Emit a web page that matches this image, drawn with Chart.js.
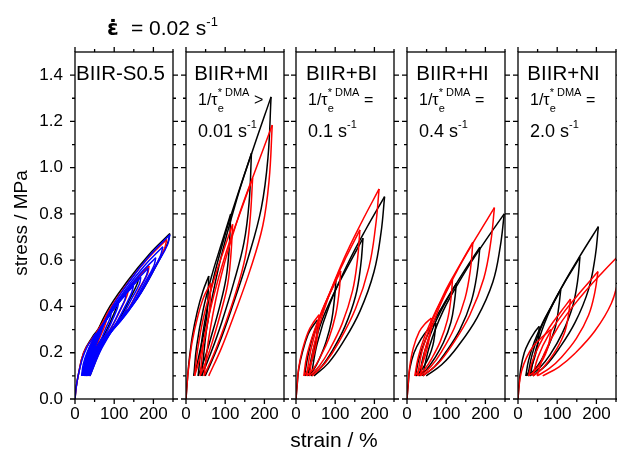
<!DOCTYPE html>
<html>
<head>
<meta charset="utf-8">
<script src="https://cdn.jsdelivr.net/npm/chart.js@4.4.1/dist/chart.umd.min.js"></script>
<style>
  body { margin: 0; background: #fff; }
  #wrap { position: relative; width: 617px; height: 457px; }
  #wrap canvas { position: absolute; left: 0; top: 0; }
</style>
</head>
<body>
<div id="wrap"></div>
<script>
// cyclic tensile tests: strain in %, stress in MPa, each array runs load -> unload -> reload ...
const s05BlackStrain = [0,3,8,22,45,54,80,109, 106,96,74,53,36,22, 34,57,93,128,163, 158,142,109,75,48,28, 45,81,135,188,242, 236,212,160,109,68,38];
const s05BlackStress = [0,0.05,0.1,0.2,0.27,0.29,0.35,0.42, 0.398,0.356,0.276,0.222,0.164,0.1, 0.194,0.291,0.385,0.461,0.525, 0.495,0.44,0.334,0.262,0.185,0.1, 0.235,0.377,0.512,0.623,0.715, 0.672,0.592,0.438,0.334,0.223,0.1];
const s05RedStrain = [0,3,8,22,45,63,81, 79,72,56,41,29,20, 29,48,78,107,136, 132,119,91,63,42,25, 38,66,107,148,189, 185,165,126,86,54,30, 46,81,132,183,234, 228,204,154,105,65,36];
const s05RedStress = [0,0.05,0.1,0.2,0.265,0.3,0.35, 0.333,0.3,0.238,0.195,0.15,0.1, 0.181,0.267,0.348,0.415,0.47, 0.444,0.396,0.304,0.241,0.174,0.1, 0.205,0.314,0.418,0.504,0.575, 0.542,0.48,0.361,0.281,0.195,0.1, 0.23,0.366,0.495,0.602,0.69, 0.649,0.572,0.425,0.324,0.219,0.1];
const s05BlueStrain = [0,3,8,18,31,45,54, 53,48,39,30,23,17, 21,31,45,59,73, 71,65,51,38,27,19, 25,37,56,74,92, 90,81,64,46,32,21, 28,44,66,89,111, 108,98,76,54,36,23, 32,50,77,103,130, 127,114,88,62,41,25, 35,56,87,118,149, 145,131,100,70,45,27, 38,62,98,133,168, 164,147,112,78,50,29, 42,69,108,148,187, 182,164,125,86,54,31, 45,75,119,162,206, 201,180,137,94,59,33, 48,81,129,176,224, 218,196,148,101,63,35, 52,87,139,190,242, 236,211,160,109,69,38];
const s05BlueStress = [0,0.05,0.1,0.17,0.225,0.262,0.285, 0.272,0.248,0.202,0.17,0.137,0.1, 0.15,0.202,0.252,0.293,0.327, 0.311,0.282,0.225,0.186,0.145,0.1, 0.159,0.222,0.281,0.33,0.37, 0.351,0.316,0.249,0.203,0.154,0.1, 0.169,0.241,0.31,0.367,0.414, 0.392,0.351,0.273,0.219,0.163,0.1, 0.178,0.259,0.337,0.4,0.453, 0.428,0.382,0.294,0.234,0.171,0.1, 0.186,0.275,0.361,0.431,0.489, 0.462,0.411,0.314,0.248,0.178,0.1, 0.194,0.292,0.385,0.462,0.526, 0.496,0.441,0.334,0.262,0.185,0.1, 0.203,0.31,0.412,0.496,0.566, 0.533,0.473,0.356,0.277,0.193,0.1, 0.212,0.33,0.442,0.534,0.611, 0.575,0.509,0.381,0.294,0.202,0.1, 0.223,0.351,0.474,0.574,0.658, 0.619,0.546,0.407,0.312,0.212,0.1, 0.234,0.375,0.509,0.619,0.71, 0.667,0.588,0.436,0.332,0.222,0.1];

const miBlackStrain = [0,3,7,16,29,43,58, 56,53,45,35,28,20, 27,43,67,91,114, 110,102,85,64,48,31, 42,65,99,133,167, 161,148,122,91,65,40, 54,85,129,173,217, 209,192,158,116,83,49];
const miBlackStress = [0,0.07,0.15,0.27,0.38,0.465,0.532, 0.437,0.359,0.281,0.204,0.148,0.1, 0.226,0.38,0.541,0.674,0.8, 0.646,0.52,0.394,0.268,0.177,0.1, 0.273,0.485,0.706,0.889,1.062, 0.85,0.677,0.504,0.331,0.206,0.1, 0.317,0.582,0.86,1.089,1.306, 1.041,0.824,0.607,0.389,0.233,0.1];
const miRedStrain = [0,3,7,16,29,45,63, 61,56,48,38,30,22, 30,46,71,95,119, 114,106,89,69,53,36, 46,70,103,137,170, 163,151,127,96,71,46, 61,90,133,177,220, 212,196,163,122,90,58];
const miRedStress = [0,0.07,0.14,0.25,0.35,0.44,0.5, 0.412,0.34,0.268,0.196,0.144,0.1, 0.218,0.362,0.513,0.637,0.755, 0.611,0.493,0.375,0.257,0.172,0.1, 0.254,0.442,0.638,0.8,0.954, 0.766,0.612,0.459,0.305,0.194,0.1, 0.295,0.534,0.783,0.989,1.184, 0.946,0.75,0.555,0.36,0.219,0.1];

const biBlackStrain = [0,3,7,16,31,45,55, 54,50,44,36,29,22, 29,42,63,82,102, 98,91,77,60,46,31, 43,66,102,137,171, 165,152,125,92,66,39, 54,86,133,179,226, 217,199,163,118,82,46];
const biBlackStress = [0,0.06,0.13,0.2,0.28,0.32,0.342, 0.294,0.24,0.187,0.144,0.117,0.1, 0.175,0.266,0.361,0.44,0.515, 0.432,0.341,0.249,0.175,0.129,0.1, 0.207,0.338,0.475,0.588,0.695, 0.576,0.445,0.314,0.207,0.142,0.1, 0.24,0.41,0.588,0.736,0.875, 0.72,0.55,0.379,0.24,0.154,0.1];
const biRedStrain = [0,3,7,16,31,46,59, 57,53,46,36,28,20, 27,44,67,91,114, 110,101,84,62,45,27, 38,61,96,129,163, 157,144,118,86,60,34, 48,79,123,167,212, 203,186,152,109,75,41];
const biRedStress = [0,0.065,0.135,0.21,0.29,0.335,0.364, 0.311,0.253,0.195,0.148,0.118,0.1, 0.182,0.282,0.386,0.472,0.554, 0.463,0.363,0.263,0.182,0.132,0.1, 0.214,0.352,0.498,0.617,0.731, 0.605,0.466,0.327,0.214,0.144,0.1, 0.245,0.423,0.609,0.763,0.908, 0.746,0.569,0.391,0.245,0.157,0.1];

const hiBlackStrain = [0,3,7,18,36,54,74, 71,66,56,43,33,22, 30,48,74,100,126, 121,112,93,69,50,31, 44,70,109,147,186, 179,164,135,98,70,40, 57,92,145,196,248, 238,219,179,129,89,49];
const hiBlackStress = [0,0.06,0.13,0.2,0.26,0.3,0.328, 0.282,0.232,0.182,0.141,0.116,0.1, 0.172,0.26,0.352,0.428,0.5, 0.42,0.332,0.244,0.172,0.128,0.1, 0.2,0.322,0.45,0.556,0.656, 0.545,0.422,0.3,0.2,0.139,0.1, 0.226,0.38,0.541,0.674,0.8, 0.66,0.506,0.352,0.226,0.149,0.1];
const hiRedStrain = [0,3,7,16,31,46,62, 60,55,47,37,28,20, 28,44,68,92,116, 112,103,85,63,45,27, 38,63,97,133,168, 162,148,121,88,61,34, 49,81,129,176,223, 214,196,160,114,78,41];
const hiRedStress = [0,0.065,0.14,0.22,0.29,0.325,0.35, 0.3,0.245,0.19,0.145,0.118,0.1, 0.175,0.266,0.361,0.44,0.515, 0.432,0.341,0.249,0.175,0.129,0.1, 0.204,0.331,0.464,0.574,0.678, 0.562,0.435,0.308,0.204,0.14,0.1, 0.231,0.391,0.558,0.696,0.827, 0.682,0.522,0.362,0.231,0.151,0.1];

const niBlackStrain = [0,3,7,16,29,41,54, 53,49,42,34,27,20, 27,42,64,87,109, 104,96,79,59,42,25, 36,58,92,125,158, 152,139,113,82,56,31, 46,75,119,162,205, 197,180,146,104,71,38];
const niBlackStress = [0,0.065,0.13,0.2,0.25,0.285,0.314, 0.271,0.224,0.177,0.139,0.115,0.1, 0.167,0.249,0.334,0.405,0.472, 0.398,0.316,0.234,0.167,0.126,0.1, 0.192,0.305,0.423,0.521,0.613, 0.51,0.398,0.285,0.192,0.136,0.1, 0.216,0.358,0.506,0.629,0.745, 0.616,0.474,0.332,0.216,0.145,0.1];
const niRedStrain = [0,3,9,22,40,63,84, 81,75,64,50,38,27, 36,54,80,107,134, 129,120,100,76,57,38, 51,79,121,163,204, 196,180,149,111,80,49, 67,104,159,213,268, 258,238,196,145,104,63];
const niRedStress = [0,0.06,0.12,0.18,0.23,0.27,0.3, 0.26,0.216,0.172,0.136,0.114,0.1, 0.16,0.233,0.309,0.372,0.432, 0.366,0.293,0.22,0.16,0.123,0.1, 0.181,0.28,0.384,0.47,0.551, 0.461,0.362,0.262,0.181,0.132,0.1, 0.197,0.316,0.44,0.543,0.64, 0.532,0.413,0.294,0.197,0.138,0.1];

const sampleNames = ["BIIR-S0.5", "BIIR+MI", "BIIR+BI", "BIIR+HI", "BIIR+NI"];
const relaxSigns = ["", ">", "=", "=", "="];
const relaxRates = ["", "0.01", "0.1", "0.4", "2.0"];

const xTicks = [0, 50, 100, 150, 200, 250];
const xTickLabels = [0, 100, 200];
const yTicks = [0, 0.1, 0.2, 0.3, 0.4, 0.5, 0.6, 0.7, 0.8, 0.9, 1.0, 1.1, 1.2, 1.3, 1.4];
const yTickLabels = ["0.0", "0.2", "0.4", "0.6", "0.8", "1.0", "1.2", "1.4"];

// per panel, listed bottom layer first
const curves = [
  [[s05BlackStrain, s05BlackStress, "#000"], [s05RedStrain, s05RedStress, "#f00"], [s05BlueStrain, s05BlueStress, "#00f"]],
  [[miBlackStrain, miBlackStress, "#000"], [miRedStrain, miRedStress, "#f00"]],
  [[biBlackStrain, biBlackStress, "#000"], [biRedStrain, biRedStress, "#f00"]],
  [[hiBlackStrain, hiBlackStress, "#000"], [hiRedStrain, hiRedStress, "#f00"]],
  [[niBlackStrain, niBlackStress, "#000"], [niRedStrain, niRedStress, "#f00"]]
];

const W = 617, H = 457;
const panelLeft = [75, 186, 296, 407, 518];
const panelWidth = 98;
const plotTop = 52, plotBottom = 399;
const FONT = "'Liberation Sans', Arial, sans-serif";

// split a load/unload path wherever strain changes direction, so each branch is smoothed alone
function branches(xs, ys) {
  const out = [];
  let cur = [{ x: xs[0], y: ys[0] }];
  let dir = 0;
  for (let i = 1; i < xs.length; i++) {
    const d = Math.sign(xs[i] - xs[i - 1]);
    if (dir && d && d !== dir) {
      out.push(cur);
      cur = [{ x: xs[i - 1], y: ys[i - 1] }];
    }
    if (d) dir = d;
    cur.push({ x: xs[i], y: ys[i] });
  }
  out.push(cur);
  return out;
}

function runs(ctx, x, y, parts) {
  // parts: [text, size, dy, keepX]
  parts.forEach(([t, size, dy, keep]) => {
    ctx.font = size + "px " + FONT;
    ctx.fillText(t, x, y + dy);
    if (!keep) x += ctx.measureText(t).width;
  });
  return x;
}

const panelFrame = {
  id: "panelFrame",
  afterDatasetsDraw(chart, args, opts) {
    const { ctx, chartArea: a, scales: { x, y } } = chart;
    const i = opts.index;
    ctx.save();
    ctx.strokeStyle = "#000";
    ctx.fillStyle = "#000";
    ctx.lineWidth = 1.3;
    ctx.strokeRect(a.left, a.top, a.right - a.left, a.bottom - a.top);

    ctx.beginPath();
    xTicks.forEach(v => {
      const px = x.getPixelForValue(v);
      const len = v % 100 === 0 ? 5 : 3;
      ctx.moveTo(px, a.bottom); ctx.lineTo(px, a.bottom + len);
      ctx.moveTo(px, a.top); ctx.lineTo(px, a.top - len);
    });
    yTicks.forEach((v, k) => {
      const py = y.getPixelForValue(v);
      const len = k % 2 === 0 ? 5 : 3;
      ctx.moveTo(a.left, py); ctx.lineTo(a.left - len, py);
      ctx.moveTo(a.right, py); ctx.lineTo(a.right + len, py);
    });
    ctx.stroke();

    ctx.font = "17px " + FONT;
    ctx.textAlign = "center";
    ctx.textBaseline = "middle";
    xTickLabels.forEach(v => ctx.fillText(String(v), x.getPixelForValue(v), 414));

    if (i === 0) {
      ctx.textAlign = "right";
      yTickLabels.forEach(s => ctx.fillText(s, 63, y.getPixelForValue(parseFloat(s))));

      ctx.font = "21px " + FONT;
      ctx.textAlign = "center";
      ctx.fillText("strain / %", 334, 441);
      ctx.font = "19px " + FONT;
      ctx.save();
      ctx.translate(22, 223);
      ctx.rotate(-Math.PI / 2);
      ctx.fillText("stress / MPa", 0, 0);
      ctx.restore();

      ctx.textAlign = "left";
      ctx.textBaseline = "alphabetic";
      ctx.font = "bold 21px 'DejaVu Sans', sans-serif";
      ctx.fillText("\u03B5\u0307", 107, 35);
      runs(ctx, 131, 35, [["= 0.02 s", 21, 0], ["-1", 13, -9]]);
    }

    // sample name and relaxation rate
    ctx.textBaseline = "alphabetic";
    ctx.textAlign = "center";
    ctx.font = "20.5px " + FONT;
    ctx.fillText(sampleNames[i], (a.left + a.right) / 2 - 3.5, 80);
    ctx.textAlign = "left";
    if (relaxRates[i]) {
      const x0 = a.left + 12;
      let xx = runs(ctx, x0, 105, [["1/\u03C4", 16, 0]]);
      runs(ctx, xx, 105, [["e", 11, 7, true]]);
      xx = runs(ctx, xx, 105, [["* DMA", 11, -9]]);
      runs(ctx, xx, 105, [[" " + relaxSigns[i], 16, 0]]);
      runs(ctx, x0, 137, [[relaxRates[i] + " s", 18, 0], ["-1", 11, -9]]);
    }
    ctx.restore();
  }
};

const wrap = document.getElementById("wrap");
curves.forEach((list, i) => {
  const canvas = document.createElement("canvas");
  canvas.width = W;
  canvas.height = H;
  wrap.appendChild(canvas);

  const datasets = [];
  list.forEach(([xs, ys, color], k) => {
    branches(xs, ys).forEach(pts => datasets.push({
      data: pts,
      borderColor: color,
      borderWidth: 1.5,
      pointRadius: 0,
      showLine: true,
      tension: 0.4,
      fill: false,
      order: list.length - k   // lower order is painted last
    }));
  });

  new Chart(canvas, {
    type: "scatter",
    data: { datasets },
    options: {
      responsive: false,
      animation: false,
      devicePixelRatio: 1,
      events: [],
      layout: {
        padding: {
          left: panelLeft[i],
          right: W - panelLeft[i] - panelWidth,
          top: plotTop,
          bottom: H - plotBottom
        }
      },
      scales: {
        x: { type: "linear", display: false, min: 0, max: 250 },
        y: { type: "linear", display: false, min: 0, max: 1.5 }
      },
      plugins: {
        legend: { display: false },
        tooltip: { enabled: false },
        panelFrame: { index: i }
      }
    },
    plugins: [panelFrame]
  });
});
</script>
</body>
</html>
